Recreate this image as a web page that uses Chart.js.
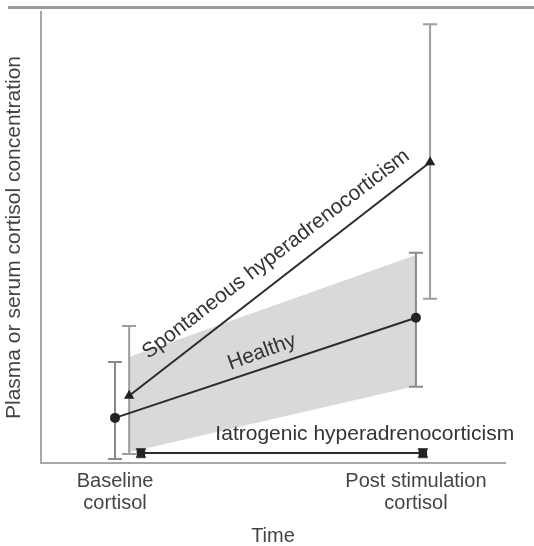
<!DOCTYPE html>
<html>
<head>
<meta charset="utf-8">
<script src="https://cdn.jsdelivr.net/npm/chart.js@4.4.1/dist/chart.umd.min.js"></script>
<style>
  body { margin: 0; background: #fff; }
  canvas { display: block; }
</style>
</head>
<body>
<canvas id="myChart" width="534" height="546"></canvas>
<script>
// x positions: 0 = baseline, 1 = post stimulation (small offsets keep series apart)
const tickLabels = [["Baseline", "cortisol"], ["Post stimulation", "cortisol"]];

const healthyX = [0, 1];
const healthyY = [10.0, 32.2];
const healthyLow = [0.9, 16.9];
const healthyHigh = [22.4, 46.6];

const spontX = [0.047, 1.047];
const spontY = [14.9, 66.7];
const spontLow = [2.0, 36.4];
const spontHigh = [30.4, 97.3];

const iatroX = [0.086, 1.023];
const iatroY = [2.2, 2.2];
const iatroLow = [1.3, 1.3];
const iatroHigh = [3.1, 3.1];

// grey reference range for healthy animals
const bandX = [0.047, 1];
const bandLow = [2.4, 17.1];
const bandHigh = [23.5, 46.1];

const labels = [
    { text: "Spontaneous hyperadrenocorticism", x: 0.535, y: 46.3, angle: -37.5 },
    { text: "Healthy", x: 0.488, y: 24.6, angle: -20 },
    { text: "Iatrogenic hyperadrenocorticism", x: 0.83, y: 6.4, angle: 0 }
];

const FONT = '"Liberation Sans", Arial, sans-serif';

function pts(xs, ys) {
    return xs.map((x, i) => ({ x: x, y: ys[i] }));
}

const errorBars = [
    { xs: healthyX, low: healthyLow, high: healthyHigh, color: '#8a8a8a', cap: 7 },
    { xs: spontX, low: spontLow, high: spontHigh, color: '#9d9d9d', cap: 7 },
    { xs: iatroX, low: iatroLow, high: iatroHigh, color: '#555', cap: 5 }
];

const decorPlugin = {
    id: 'decor',
    beforeDraw(chart) {
        const c = chart.ctx;
        c.save();
        c.fillStyle = '#fff';
        c.fillRect(0, 0, chart.width, chart.height);
        c.fillStyle = '#9a9a9a';
        c.fillRect(8, 6, 526, 3);
        c.restore();
    },
    afterDatasetDraw(chart, args) {
        if (args.index !== 1) return;
        const c = chart.ctx;
        const xs = chart.scales.x, ys = chart.scales.y;
        c.save();
        c.lineWidth = 2;
        errorBars.forEach(eb => {
            c.strokeStyle = eb.color;
            eb.xs.forEach((x, i) => {
                const px = xs.getPixelForValue(x);
                const top = ys.getPixelForValue(eb.high[i]);
                const bot = ys.getPixelForValue(eb.low[i]);
                c.beginPath();
                c.moveTo(px, top); c.lineTo(px, bot);
                c.moveTo(px - eb.cap, top); c.lineTo(px + eb.cap, top);
                c.moveTo(px - eb.cap, bot); c.lineTo(px + eb.cap, bot);
                c.stroke();
            });
        });
        c.restore();
    },
    afterDraw(chart) {
        const c = chart.ctx;
        const xs = chart.scales.x, ys = chart.scales.y;
        c.save();
        c.fillStyle = '#333';
        c.font = '21px ' + FONT;
        c.textAlign = 'center';
        c.textBaseline = 'middle';
        labels.forEach(l => {
            c.save();
            c.translate(xs.getPixelForValue(l.x), ys.getPixelForValue(l.y));
            c.rotate(l.angle * Math.PI / 180);
            c.fillText(l.text, 0, 0);
            c.restore();
        });
        c.restore();
    }
};

const ctx = document.getElementById("myChart");
const myChart = new Chart(ctx, {
    type: 'line',
    data: {
        datasets: [
            {
                label: 'band low',
                data: pts(bandX, bandLow),
                borderColor: 'rgba(0,0,0,0)',
                pointRadius: 0,
                fill: false,
                order: 12
            },
            {
                label: 'band high',
                data: pts(bandX, bandHigh),
                borderColor: 'rgba(0,0,0,0)',
                backgroundColor: '#d9d9d9',
                pointRadius: 0,
                fill: '-1',
                order: 11
            },
            {
                label: 'Healthy',
                data: pts(healthyX, healthyY),
                borderColor: '#2b2b2b',
                backgroundColor: '#222',
                borderWidth: 2,
                pointStyle: 'circle',
                pointRadius: 5,
                pointBorderWidth: 0,
                order: 1
            },
            {
                label: 'Spontaneous hyperadrenocorticism',
                data: pts(spontX, spontY),
                borderColor: '#2b2b2b',
                backgroundColor: '#222',
                borderWidth: 2,
                pointStyle: 'triangle',
                pointRadius: 6,
                pointBorderWidth: 0,
                order: 1
            },
            {
                label: 'Iatrogenic hyperadrenocorticism',
                data: pts(iatroX, iatroY),
                borderColor: '#2b2b2b',
                backgroundColor: '#222',
                borderWidth: 2,
                pointStyle: 'rect',
                pointRadius: 6,
                pointBorderWidth: 0,
                order: 1
            }
        ]
    },
    options: {
        responsive: false,
        animation: false,
        devicePixelRatio: 1,
        layout: { padding: { left: 0, right: 29, top: 12, bottom: 0 } },
        plugins: {
            legend: { display: false },
            tooltip: { enabled: false }
        },
        scales: {
            x: {
                type: 'linear',
                min: -0.246,
                max: 1.296,
                grid: { display: false, drawTicks: false },
                border: { display: true, color: '#a8a8a8', width: 2 },
                afterBuildTicks: s => { s.ticks = [{ value: 0 }, { value: 1 }]; },
                afterFit: s => { s.height = 83; },
                ticks: {
                    autoSkip: false,
                    maxRotation: 0,
                    padding: 7,
                    color: '#444',
                    font: { family: FONT, size: 20, lineHeight: 1.1 },
                    callback: (v) => tickLabels[Math.round(v)]
                },
                title: {
                    display: true,
                    text: 'Time',
                    color: '#444',
                    font: { family: FONT, size: 20, lineHeight: 1 },
                    padding: { top: 0, bottom: 0 }
                }
            },
            y: {
                min: 0,
                max: 100,
                grid: { display: false, drawTicks: false },
                border: { display: true, color: '#a8a8a8', width: 2 },
                ticks: { display: false },
                afterFit: s => { s.width = 41; },
                title: {
                    display: true,
                    text: 'Plasma or serum cortisol concentration',
                    color: '#444',
                    font: { family: FONT, size: 21, lineHeight: 1.2 },
                    padding: { top: 2, bottom: 0 }
                }
            }
        }
    },
    plugins: [decorPlugin]
});
</script>
</body>
</html>
